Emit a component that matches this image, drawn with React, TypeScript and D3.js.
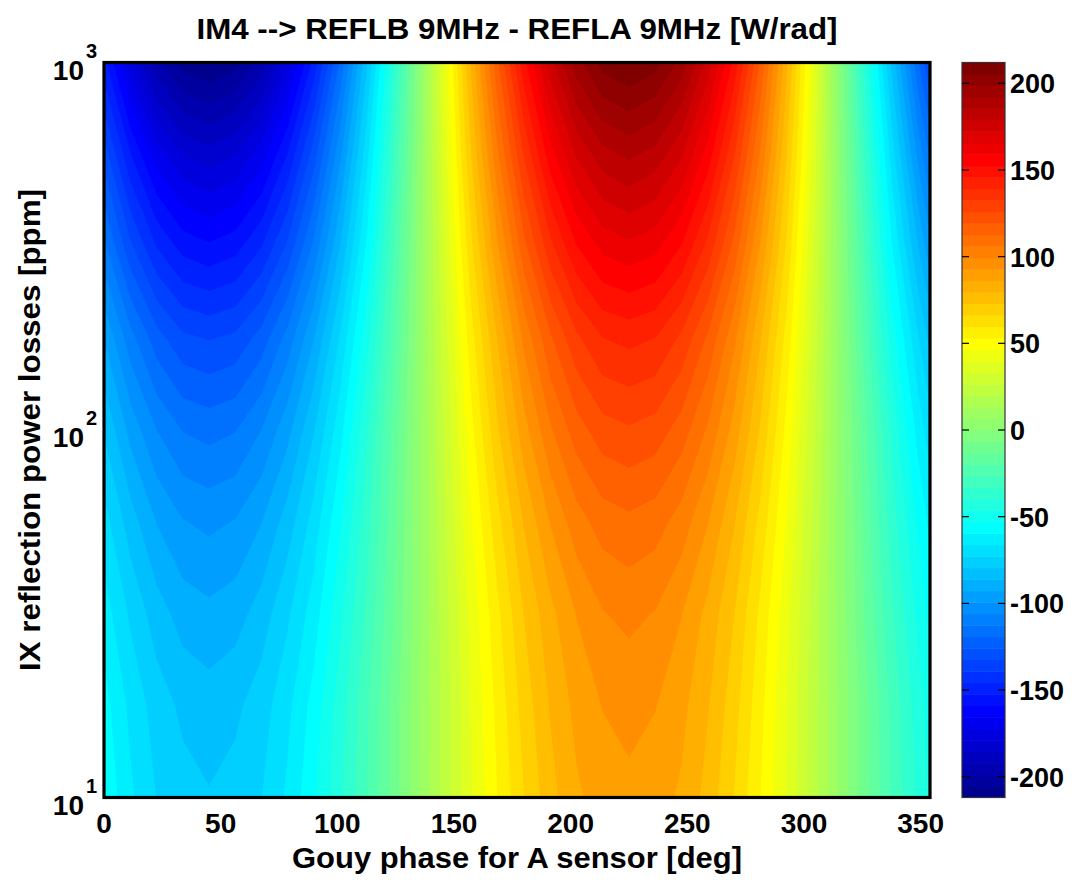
import React from "react";
import * as d3 from "d3";

// Gouy phase grid [deg]
const phases = [0, 11.25, 22.5, 33.75, 45, 56.25, 67.5, 78.75, 90, 101.25, 112.5, 123.75, 135, 146.25, 157.5, 168.75, 180, 191.25, 202.5, 213.75, 225, 236.25, 247.5, 258.75, 270, 281.25, 292.5, 303.75, 315, 326.25, 337.5, 348.75, 360];
// IX reflection power losses grid [ppm]
const losses = [10, 17.78, 31.62, 56.23, 100, 177.8, 316.2, 562.3, 1000];

// Signal [W/rad], one row per loss value, one column per phase
const row10 = [-54, -65, -73, -77, -79, -77, -73, -65, -54, -41, -27, -11, 6, 23, 39, 53, 66, 77, 85, 89, 91, 89, 85, 77, 66, 53, 39, 23, 6, -11, -27, -41, -54];
const row18 = [-57, -68, -76, -81, -83, -81, -76, -68, -57, -43, -28, -11, 6, 23, 40, 55, 69, 80, 88, 93, 95, 93, 88, 80, 69, 55, 40, 23, 6, -11, -28, -43, -57];
const row32 = [-63, -74, -83, -89, -91, -89, -83, -74, -63, -48, -32, -14, 5, 24, 42, 58, 73, 84, 93, 99, 101, 99, 93, 84, 73, 58, 42, 24, 5, -14, -32, -48, -63];
const row56 = [-70, -83, -93, -99, -101, -99, -93, -83, -70, -54, -36, -16, 5, 26, 46, 64, 80, 93, 103, 109, 111, 109, 103, 93, 80, 64, 46, 26, 5, -16, -36, -54, -70];
const row100 = [-80, -95, -106, -113, -115, -113, -106, -95, -80, -62, -41, -18, 5, 28, 51, 72, 90, 105, 116, 123, 125, 123, 116, 105, 90, 72, 51, 28, 5, -18, -41, -62, -80];
const row178 = [-93, -110, -123, -131, -133, -131, -123, -110, -93, -72, -49, -23, 4, 31, 57, 80, 101, 118, 131, 139, 141, 139, 131, 118, 101, 80, 57, 31, 4, -23, -49, -72, -93];
const row316 = [-111, -131, -146, -155, -158, -155, -146, -131, -111, -86, -59, -28, 3, 34, 65, 92, 117, 137, 152, 161, 164, 161, 152, 137, 117, 92, 65, 34, 3, -28, -59, -86, -111];
const row562 = [-129, -152, -169, -179, -183, -179, -169, -152, -129, -101, -69, -34, 2, 38, 73, 105, 133, 156, 173, 183, 187, 183, 173, 156, 133, 105, 73, 38, 2, -34, -69, -101, -129];
const row1000 = [-150, -176, -196, -208, -212, -208, -196, -176, -150, -118, -81, -41, 0, 41, 81, 118, 150, 176, 196, 208, 212, 208, 196, 176, 150, 118, 81, 41, 0, -41, -81, -118, -150];
const signal = [row10, row18, row32, row56, row100, row178, row316, row562, row1000];

const xTicks = [0, 50, 100, 150, 200, 250, 300, 350];
const yTickExponents = [1, 2, 3];
const colorTicks = [-200, -150, -100, -50, 0, 50, 100, 150, 200];
const zRange = [-212, 212];
const nLevels = 64;

const titleText = "IM4 --> REFLB 9MHz - REFLA 9MHz [W/rad]";
const xLabelText = "Gouy phase for A sensor [deg]";
const yLabelText = "IX reflection power losses [ppm]";

function jet(i: number, m = 64): string {
  const n = Math.ceil(m / 4);
  const u = (j: number) => (j < 1 || j > 3 * n - 1 ? 0 : j <= n ? j / n : j <= 2 * n - 1 ? 1 : (3 * n - j) / n);
  const R = i + 1;
  const r = u(R - (Math.ceil(n / 2) + n));
  const g = u(R - Math.ceil(n / 2));
  const b = u(R + (n - Math.ceil(n / 2)));
  return d3.rgb(r * 255, g * 255, b * 255).formatHex();
}

const FONT = "'Liberation Sans', Arial, Helvetica, sans-serif";

export default function App() {
  const W = 1078, H = 880;
  const left = 104, right = 930, top = 62.5, bottom = 797.5;
  const cbLeft = 962, cbRight = 1005;

  const x = d3.scaleLinear().domain([0, 354]).range([left, right]);
  const y = d3.scaleLog().domain([10, 1000]).range([bottom, top]);
  const c = d3.scaleLinear().domain(zRange).range([bottom, top]);

  const nx = phases.length, ny = losses.length;
  const step = (zRange[1] - zRange[0]) / nLevels;
  const thresholds = d3.range(1, nLevels).map((i) => zRange[0] + i * step);
  const contours = d3.contours().size([nx, ny]).thresholds(thresholds)(signal.flat());
  const logLoss = losses.map((v) => Math.log10(v));

  const interp = (arr: number[], cc: number, n: number) => {
    const g = Math.max(0, Math.min(n - 1, cc - 0.5));
    const i = Math.min(n - 2, Math.floor(g));
    const t = g - i;
    return arr[i] + t * (arr[i + 1] - arr[i]);
  };
  const px = (cx: number) => x(interp(phases, cx, nx));
  const py = (cy: number) => y(Math.pow(10, interp(logLoss, cy, ny)));
  const pathOf = (geom: any) =>
    geom.coordinates
      .map((poly: number[][][]) =>
        poly
          .map((ring) => "M" + ring.map(([a, b]) => `${px(a).toFixed(2)},${py(b).toFixed(2)}`).join("L") + "Z")
          .join("")
      )
      .join("");

  const bands = d3.range(nLevels).map((i) => ({ i, lo: zRange[0] + i * step, hi: zRange[0] + (i + 1) * step }));

  return (
    <svg width={W} height={H} style={{ position: "absolute", left: 0, top: 0, background: "#fff" }} fontFamily={FONT} fontWeight="bold">
      <defs>
        <clipPath id="plotclip">
          <rect x={left} y={top} width={right - left} height={bottom - top} />
        </clipPath>
      </defs>
      <g clipPath="url(#plotclip)">
        <rect x={left} y={top} width={right - left} height={bottom - top} fill={jet(0)} />
        {contours.map((cn, k) => (
          <path key={k} d={pathOf(cn)} fill={jet(k + 1)} fillRule="evenodd" stroke={jet(k + 1)} strokeWidth={0.4} />
        ))}
      </g>
      <rect x={left} y={top} width={right - left} height={bottom - top} fill="none" stroke="#000" strokeWidth={3.2} />

      {xTicks.map((t) => (
        <text key={t} x={x(t)} y={833} textAnchor="middle" fontSize={28}>{t}</text>
      ))}
      {yTickExponents.map((e) => (
        <g key={e}>
          <text x={84} y={y(Math.pow(10, e)) + 17} textAnchor="end" fontSize={28}>10</text>
          <text x={86} y={y(Math.pow(10, e)) - 5} textAnchor="start" fontSize={20}>{e}</text>
        </g>
      ))}

      <text x={(left + right) / 2} y={39} textAnchor="middle" fontSize={29} textLength={641} lengthAdjust="spacingAndGlyphs">{titleText}</text>
      <text x={(left + right) / 2} y={868} textAnchor="middle" fontSize={29} textLength={450} lengthAdjust="spacingAndGlyphs">{xLabelText}</text>
      <text transform={`translate(40, ${(top + bottom) / 2}) rotate(-90)`} textAnchor="middle" fontSize={29} textLength={482} lengthAdjust="spacingAndGlyphs">{yLabelText}</text>

      {bands.map((b) => (
        <rect key={b.i} x={cbLeft} y={c(b.hi)} width={cbRight - cbLeft} height={c(b.lo) - c(b.hi) + 0.5} fill={jet(b.i)} />
      ))}
      <rect x={cbLeft} y={top} width={cbRight - cbLeft} height={bottom - top} fill="none" stroke="#333" strokeWidth={1.2} />
      {colorTicks.map((t) => (
        <g key={t}>
          <line x1={cbLeft} x2={cbLeft + 7} y1={c(t)} y2={c(t)} stroke="#000" strokeWidth={1.2} />
          <line x1={cbRight - 7} x2={cbRight} y1={c(t)} y2={c(t)} stroke="#000" strokeWidth={1.2} />
          <text x={1010} y={c(t) + 10} fontSize={27}>{t}</text>
        </g>
      ))}
    </svg>
  );
}
